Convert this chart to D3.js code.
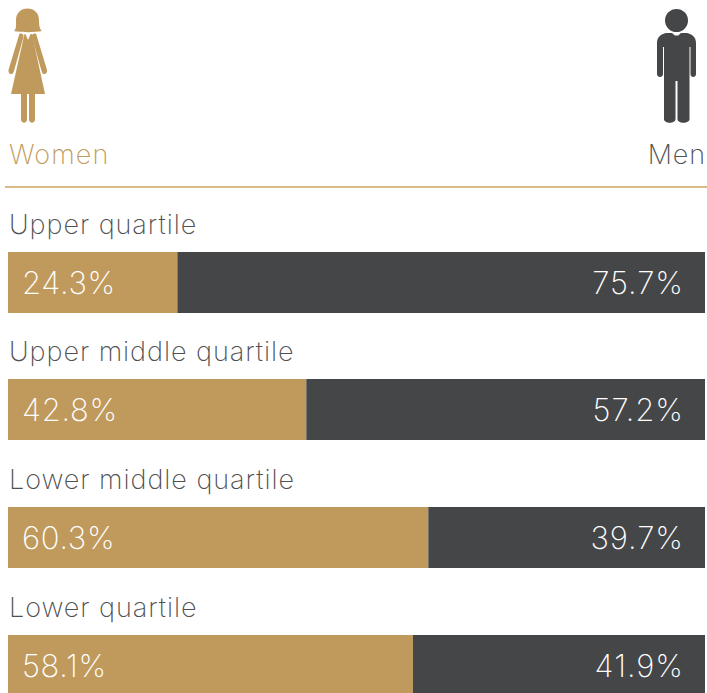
<!DOCTYPE html>
<html>
<head>
<meta charset="utf-8">
<script src="https://cdn.jsdelivr.net/npm/d3@7"></script>
<style>
html, body { margin: 0; padding: 0; background: #fff; overflow: hidden; }
svg { display: block; }
text { font-family: Inter, sans-serif; font-weight: 250; }
</style>
</head>
<body>
<script>
const w = 707
const h = 693
const gold = "#c09a5c"
const dark = "#454648"
const grey = "#4f5052"

const categories = ["Upper quartile", "Upper middle quartile", "Lower middle quartile", "Lower quartile"]
const women = [24.3, 42.8, 60.3, 58.1]
const men = [75.7, 57.2, 39.7, 41.9]

const svg = d3.select("body").append("svg")
	.attr("width", w)
	.attr("height", h)

const x = d3.scaleLinear().domain([0, 100]).range([8, 705])
const y = d3.scalePoint().domain(categories).range([252, 635])
const barH = 61

const rows = categories.map((c, i) => ({ name: c, women: women[i], men: men[i] }))

// woman icon
const woman = svg.append("g").attr("fill", gold)
woman.append("path").attr("d", "M16 20C16 13 21 8.500 27.500 8.500C34 8.500 39 13 39 20C39 25 39.500 29 42 31C36 32.500 19 32.500 14 31C16.500 29 16 25 16 20Z")
woman.append("path").attr("d", "M24.500 34L32 34L45 94L11 94Z")
woman.append("path").attr("d", "M19.500 33.500C22 33 24 34 23.500 37L14 71C12.500 76 8 74.500 8.500 70Z")
woman.append("path").attr("d", "M36 33.500C33.500 33 31.500 34 32 37L41.500 71C43 76 47.500 74.500 47 70Z")
woman.append("path").attr("d", "M21 94H27V119C27 124 21 124 21 119Z")
woman.append("path").attr("d", "M29 94H35V119C35 124 29 124 29 119Z")
woman.append("path").attr("d", "M25 33L31 33L28 40Z").attr("fill", "#fff")

// man icon
const man = svg.append("g").attr("fill", dark)
man.append("circle").attr("cx", 676.500).attr("cy", 20.500).attr("r", 11.500)
man.append("path").attr("d", "M666 33H687C692 34 696 37 696 43V74C696 78 690.500 78 690.500 74V47H689.500V80V119C689.500 124 677.500 124 677.500 119V81H675.500V119C675.500 124 664 124 664 119V80V47H663V74C663 78 657 78 657 74V43C657 37 661 34 666 33Z")
man.append("path").attr("d", "M672 33L676.500 37L681 33Z").attr("fill", "#fff")
man.append("path").attr("d", "M675 35.500H678L677.500 41L676.500 43L675.500 41Z")

svg.append("text").attr("x", 9).attr("y", 164).attr("font-size", 27).attr("letter-spacing", 1.1).attr("fill", gold).text("Women")
svg.append("text").attr("x", 706).attr("y", 164).attr("font-size", 27).attr("letter-spacing", 0.9).attr("fill", grey).attr("text-anchor", "end").text("Men")

svg.append("line")
	.attr("x1", 5).attr("x2", 707)
	.attr("y1", 187).attr("y2", 187)
	.attr("stroke", "#d8bb87").attr("stroke-width", 2)

const groups = svg.selectAll("g.row")
	.data(rows)
	.enter()
	.append("g")
	.attr("class", "row")
	.attr("transform", d => "translate(0, " + Math.floor(y(d.name)) + ")")

groups.append("rect")
	.attr("x", x(0))
	.attr("width", d => x(d.women) - x(0))
	.attr("height", barH)
	.attr("fill", gold)

groups.append("rect")
	.attr("x", d => x(d.women))
	.attr("width", d => x(100) - x(d.women))
	.attr("height", barH)
	.attr("fill", dark)

groups.append("text")
	.attr("x", 9)
	.attr("y", -18)
	.attr("font-size", 27)
	.attr("letter-spacing", 0.95)
	.attr("fill", grey)
	.text(d => d.name)

groups.append("text")
	.attr("x", 22)
	.attr("y", 42)
	.attr("font-size", 31)
	.attr("letter-spacing", 0.7)
	.attr("fill", "#fff")
	.text(d => d.women.toFixed(1) + "%")

groups.append("text")
	.attr("x", 684)
	.attr("y", 42)
	.attr("font-size", 31)
	.attr("letter-spacing", 1)
	.attr("fill", "#fff")
	.attr("text-anchor", "end")
	.text(d => d.men.toFixed(1) + "%")
</script>
</body>
</html>
